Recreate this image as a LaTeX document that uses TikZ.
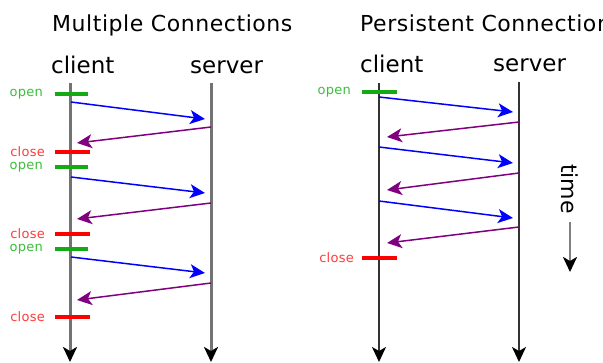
\documentclass[tikz,border=0pt]{standalone}
\usepackage{fontspec}
\setmainfont{DejaVu Sans}
\usetikzlibrary{arrows.meta}
\definecolor{okgreen}{RGB}{20,170,20}
\definecolor{lblgreen}{RGB}{60,190,60}
\definecolor{lblred}{RGB}{255,60,60}
\definecolor{msgpurple}{RGB}{128,0,128}
\tikzset{
  lifeL/.style={line width=3pt, draw=black!55, -{Stealth[length=15pt,width=14pt,inset=4pt,color=black]}},
  lifeR/.style={line width=2pt, draw=black!80, -{Stealth[length=15pt,width=14pt,inset=4pt,color=black]}},
  req/.style={draw=blue, line width=1.5pt, -{Stealth[length=15pt,width=14pt,inset=4pt]}},
  resp/.style={draw=msgpurple, line width=1.5pt, -{Stealth[length=15pt,width=14pt,inset=4pt]}},
  opentick/.style={draw=okgreen, line width=3.5pt},
  closetick/.style={draw=red, line width=3.5pt},
  small/.style={inner sep=0pt, font=\fontsize{13}{15}\selectfont\addfontfeature{LetterSpace=2}},
  openlbl/.style={small, text=lblgreen, anchor=east},
  closelbl/.style={small, text=lblred, anchor=east},
  title/.style={inner sep=0pt, anchor=base west, font=\fontsize{22}{26}\selectfont\addfontfeature{LetterSpace=2.5}},
  actor/.style={inner sep=0pt, anchor=base west, font=\fontsize{23}{27}\selectfont},
  timetick/.style={line width=2.5pt, draw=black!50, -{Stealth[length=15pt,width=14pt,inset=4pt,color=black]}}
}
\begin{document}
\begin{tikzpicture}[x=1pt,y=-1pt]
\clip (0,0) rectangle (603,362);
\fill[white] (0,0) rectangle (603,362);

% ---------- titles ----------
\node[title] (t1) at (52,31.5) {Multiple Connections};
\node[title] (t2) at (360,31.5) {Persistent Connections};
\node[actor] (c1) at (51,73) {client};
\node[actor] (s1) at (190,73) {server};
\node[actor] (c2) at (360,72) {client};
\node[actor] (s2) at (493,71) {server};

% ---------- lifelines ----------
\coordinate (cLt) at (70,83);  \coordinate (cLb) at (70,362);
\coordinate (sLt) at (211,83); \coordinate (sLb) at (211,362);
\coordinate (cRt) at (379,83); \coordinate (cRb) at (379,362);
\coordinate (sRt) at (519,82); \coordinate (sRb) at (519,362);
\draw[lifeL] (cLt) -- (cLb);
\draw[lifeL] (sLt) -- (sLb);
\draw[lifeR] (cRt) -- (cRb);
\draw[lifeR] (sRt) -- (sRb);

% ---------- left: open / close ticks ----------
\foreach \y/\k in {94/1,167/2,249/3}{
  \coordinate (lo\k a) at (55,\y); \coordinate (lo\k b) at (88,\y);
  \draw[opentick] (lo\k a) -- (lo\k b);
  \node[openlbl] (lol\k) at (43,\y) {open};
}
\foreach \y/\k in {152/1,234/2,317/3}{
  \coordinate (lc\k a) at (55,\y); \coordinate (lc\k b) at (90,\y);
  \draw[closetick] (lc\k a) -- (lc\k b);
  \node[closelbl] (lcl\k) at (45,\y) {close};
}

% ---------- left: messages ----------
\coordinate (lb1s) at (71,102); \coordinate (lb1e) at (205,119);
\coordinate (lp1s) at (211,127); \coordinate (lp1e) at (77,143);
\coordinate (lb2s) at (71,177); \coordinate (lb2e) at (205,193);
\coordinate (lp2s) at (211,203); \coordinate (lp2e) at (77,219);
\coordinate (lb3s) at (71,257); \coordinate (lb3e) at (205,273);
\coordinate (lp3s) at (211,283); \coordinate (lp3e) at (77,300);
\draw[req] (lb1s) -- (lb1e);
\draw[resp] (lp1s) -- (lp1e);
\draw[req] (lb2s) -- (lb2e);
\draw[resp] (lp2s) -- (lp2e);
\draw[req] (lb3s) -- (lb3e);
\draw[resp] (lp3s) -- (lp3e);

% ---------- right: open / close ----------
\coordinate (ro1a) at (362,92); \coordinate (ro1b) at (397,92);
\draw[opentick] (ro1a) -- (ro1b);
\node[openlbl] (rol1) at (351,92) {open};
\coordinate (rc1a) at (362,258); \coordinate (rc1b) at (397,258);
\draw[closetick] (rc1a) -- (rc1b);
\node[closelbl] (rcl1) at (354,258) {close};

% ---------- right: messages ----------
\coordinate (rb1s) at (379,97);  \coordinate (rb1e) at (513,112);
\coordinate (rp1s) at (519,122); \coordinate (rp1e) at (387,137);
\coordinate (rb2s) at (379,147); \coordinate (rb2e) at (513,163);
\coordinate (rp2s) at (519,173); \coordinate (rp2e) at (387,190);
\coordinate (rb3s) at (379,201); \coordinate (rb3e) at (513,218);
\coordinate (rp3s) at (519,227); \coordinate (rp3e) at (387,243);
\draw[req] (rb1s) -- (rb1e);
\draw[resp] (rp1s) -- (rp1e);
\draw[req] (rb2s) -- (rb2e);
\draw[resp] (rp2s) -- (rp2e);
\draw[req] (rb3s) -- (rb3e);
\draw[resp] (rp3s) -- (rp3e);

% ---------- time ----------
\node[inner sep=0pt, rotate=-90, font=\fontsize{22}{26}\selectfont] (time) at (570,189) {time};
\coordinate (tt) at (570,222); \coordinate (tb) at (570,272);
\draw[timetick] (tt) -- (tb);
\end{tikzpicture}
\end{document}
